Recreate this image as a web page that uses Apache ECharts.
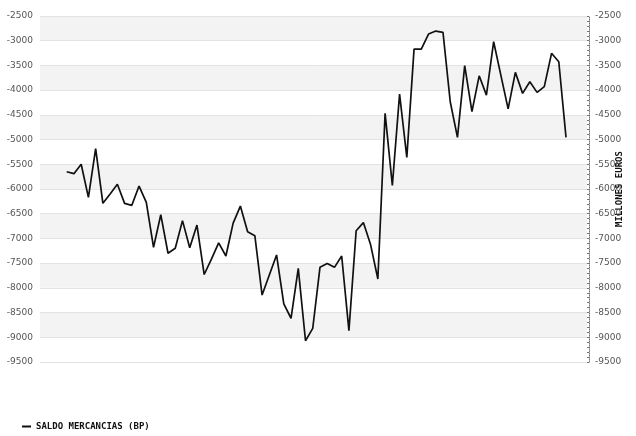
<!DOCTYPE html>
<html>
<head>
<meta charset="utf-8">
<script src="https://cdn.jsdelivr.net/npm/echarts@6/dist/echarts.min.js"></script>
<style>
html,body{margin:0;padding:0;background:#fff;}
#c{width:636px;height:436px;}
</style>
</head>
<body>
<div id="c"></div>
<script>
// Period index (one per observation)
var periods = [];
for (var i = 0; i < 70; i++) periods.push(i);

var seriesName = 'SALDO MERCANCIAS (BP)';
var saldo = [-5650,-5690,-5500,-6170,-5185,-6290,-6100,-5905,-6290,-6330,
  -5940,-6270,-7180,-6520,-7300,-7200,-6640,-7190,-6730,-7730,
  -7420,-7090,-7355,-6690,-6345,-6865,-6945,-8145,-7740,-7335,
  -8325,-8615,-7605,-9070,-8820,-7585,-7505,-7585,-7355,-8865,
  -6845,-6680,-7130,-7820,-4470,-5930,-4080,-5360,-3170,-3170,
  -2865,-2805,-2830,-4235,-4955,-3505,-4435,-3710,-4100,-3020,
  -3700,-4380,-3640,-4065,-3830,-4045,-3930,-3255,-3425,-4955];
var axisName = 'MILLONES EUROS';
var yMin = -9500, yMax = -2500, yStep = 500;

var pts = periods.map(function (p, i) { return [p, saldo[i]]; });
var plain = function (v) { return String(v); };

var chart = echarts.init(document.getElementById('c'), null, {renderer: 'canvas'});
chart.setOption({
  animation: false,
  backgroundColor: '#ffffff',
  grid: {left: 40, right: 49, top: 16, bottom: 74, containLabel: false, outerBoundsMode: 'none'},
  legend: {
    left: 17, top: 417,
    icon: 'rect', itemWidth: 9, itemHeight: 2, itemGap: 5,
    textStyle: {fontFamily: 'DejaVu Sans Mono', fontWeight: 'bold', fontSize: 9, color: '#111'},
    data: [seriesName]
  },
  xAxis: {
    type: 'value', min: -3.69, max: 71.9,
    show: false
  },
  yAxis: [{
    type: 'value', min: yMin, max: yMax, interval: yStep,
    position: 'left',
    axisLine: {show: false}, axisTick: {show: false},
    axisLabel: {fontFamily: 'DejaVu Sans', fontSize: 9, color: '#555', margin: 7, formatter: plain},
    splitLine: {show: true, lineStyle: {color: '#e2e2e2', width: 1}},
    splitArea: {show: true, areaStyle: {color: ['#ffffff', '#f3f3f3']}}
  }, {
    type: 'value', min: yMin, max: yMax, interval: yStep,
    position: 'right', offset: 2,
    name: axisName, nameLocation: 'middle', nameRotate: 90, nameGap: 26,
    nameMoveOverlap: false,
    nameTextStyle: {fontFamily: 'DejaVu Sans Mono', fontWeight: 'bold', fontSize: 9, color: '#111'},
    axisLine: {show: true, lineStyle: {color: '#777', type: 'dotted', width: 1}},
    axisTick: {show: true, length: 2, inside: true, lineStyle: {color: '#777'}},
    minorTick: {show: true, splitNumber: 5, length: 2, lineStyle: {color: '#777'}},
    axisLabel: {fontFamily: 'DejaVu Sans', fontSize: 9, color: '#555', margin: 6, formatter: plain},
    splitLine: {show: false}, splitArea: {show: false}
  }],
  series: [{
    name: seriesName, type: 'line', data: pts,
    showSymbol: false, symbol: 'none',
    lineStyle: {color: '#111', width: 1.7},
    itemStyle: {color: '#111'}
  }]
});
</script>
</body>
</html>
